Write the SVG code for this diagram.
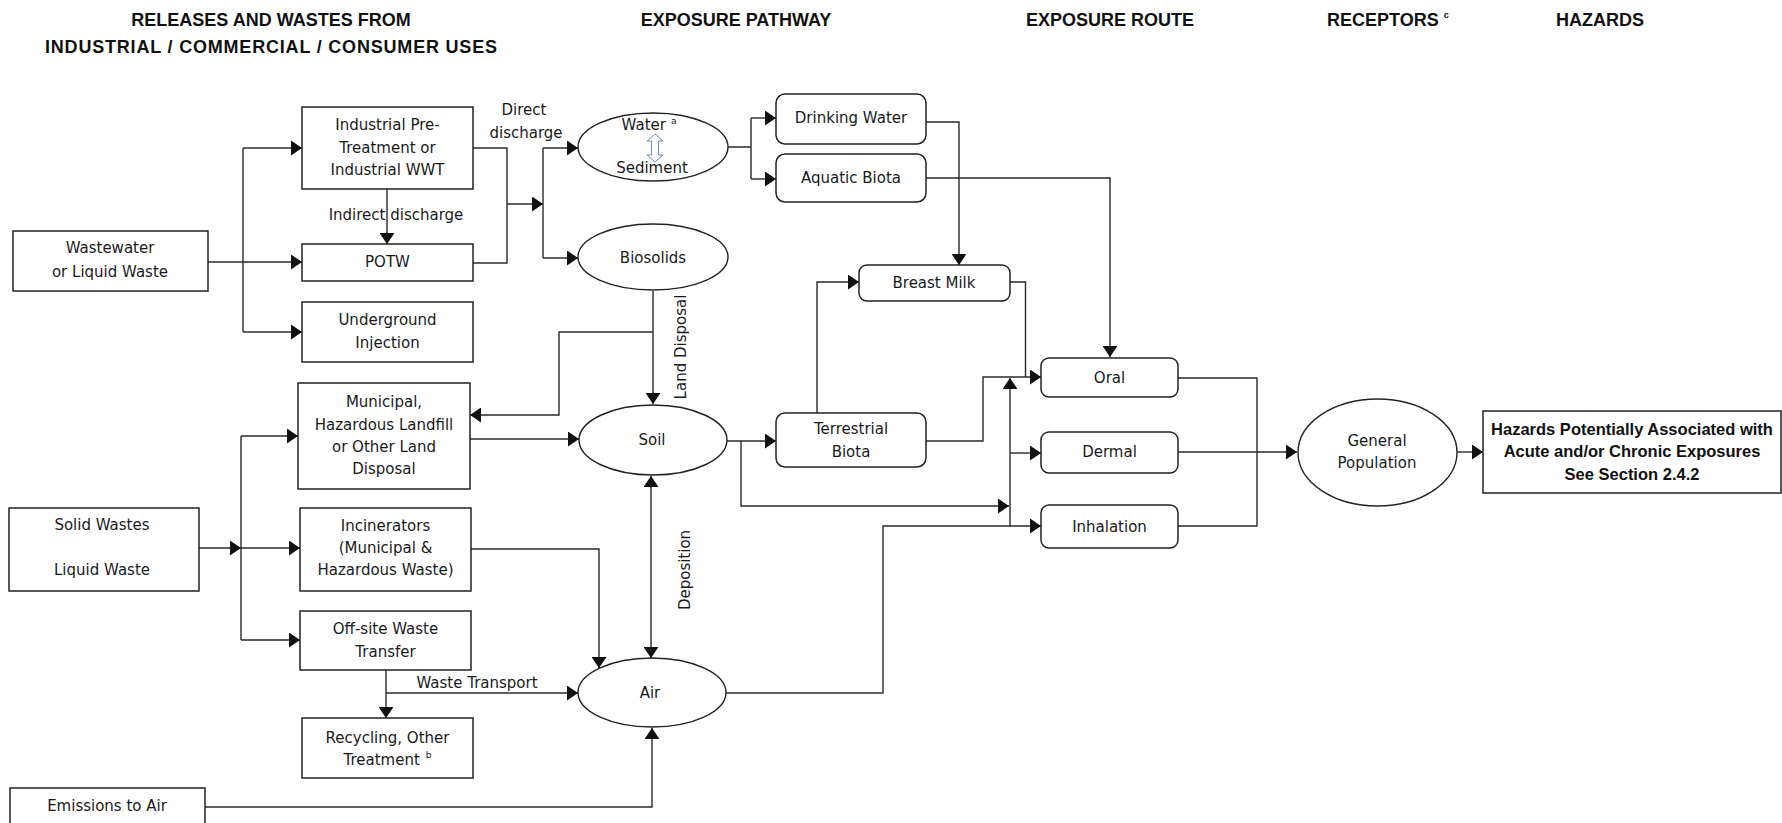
<svg xmlns="http://www.w3.org/2000/svg" width="1782" height="823" viewBox="0 0 1782 823">
  <defs>
    <marker id="ah" markerWidth="11" markerHeight="15" refX="11" refY="7.5" orient="auto-start-reverse" markerUnits="userSpaceOnUse">
      <path d="M0,0 L11,7.5 L0,15 z" fill="#111"/>
    </marker>
    <style>
      .box { fill: #fff; stroke: #222; stroke-width: 1.5; }
      .rbox { fill: #fff; stroke: #222; stroke-width: 1.5; }
      .ell { fill: #fff; stroke: #222; stroke-width: 1.4; }
      .t { font-family: "DejaVu Sans", Verdana, sans-serif; font-size: 15px; fill: #1a1a1a; text-anchor: middle; }
      .lbl { font-family: "DejaVu Sans", Verdana, sans-serif; font-size: 15px; fill: #1a1a1a; text-anchor: middle; }
      .hd { font-family: "Liberation Sans", Arial, sans-serif; font-size: 18px; font-weight: bold; fill: #111; text-anchor: middle; }
      .hz { font-family: "Liberation Sans", Arial, sans-serif; font-size: 16.5px; font-weight: bold; fill: #111; text-anchor: middle; }
      .sup { font-size: 9px; }
      .c { fill: none; stroke: #2a2a2a; stroke-width: 1.4; }
      .a { marker-end: url(#ah); }
    </style>
  </defs>
  <rect width="1782" height="823" fill="#fff"/>

  <!-- column headings -->
  <g id="headings">
    <text class="hd" x="271" y="26">RELEASES AND WASTES FROM</text>
    <text class="hd" x="271" y="53" textLength="452" lengthAdjust="spacing">INDUSTRIAL / COMMERCIAL / CONSUMER USES</text>
    <text class="hd" x="736" y="26">EXPOSURE PATHWAY</text>
    <text class="hd" x="1110" y="26">EXPOSURE ROUTE</text>
    <text class="hd" x="1327" y="26" style="text-anchor:start">RECEPTORS<tspan class="sup" dx="5" dy="-8">c</tspan></text>
    <text class="hd" x="1600" y="26">HAZARDS</text>
  </g>

  <!-- connectors -->
  <g id="connectors">
    <path class="c a" d="M208,262 H302"/>
    <path class="c" d="M243,148 V332"/>
    <path class="c a" d="M243,148 H302"/>
    <path class="c a" d="M243,332 H302"/>
    <path class="c a" d="M387,189 V244"/>
    <path class="c" d="M473,148 H507 V263 H473"/>
    <path class="c a" d="M507,204 H543"/>
    <path class="c" d="M543,148 V258"/>
    <path class="c a" d="M543,148 H578"/>
    <path class="c a" d="M543,258 H578"/>
    <path class="c" d="M728,147 H751 M751,118 V179"/>
    <path class="c a" d="M751,118 H776"/>
    <path class="c a" d="M751,179 H776"/>
    <path class="c a" d="M926,122 H959 V265"/>
    <path class="c a" d="M926,178 H1110 V357"/>
    <path class="c a" d="M653,291 V404"/>
    <path class="c a" d="M653,332 H559 V415 H470"/>
    <path class="c a" d="M470,439 H579"/>
    <path class="c a" d="M726,441 H776"/>
    <path class="c a" d="M741,441 V506 H1009"/>
    <path class="c a" d="M817,413 V282 H859"/>
    <path class="c a" d="M926,441 H983 V377 H1041"/>
    <path class="c" d="M1010,282 H1025.5 V377"/>
    <path class="c a" d="M1010,526 V378"/>
    <path class="c a" d="M1010,453 H1041"/>
    <path class="c a" d="M726,693 H883 V526 H1041"/>
    <path class="c" d="M1178,378 H1257 V526 H1178"/>
    <path class="c a" d="M1178,452 H1297"/>
    <path class="c a" d="M1457,452 H1483"/>
    <path class="c a" d="M199,548 H241"/>
    <path class="c a" d="M241,548 H300"/>
    <path class="c" d="M241,436 V640"/>
    <path class="c a" d="M241,436 H298"/>
    <path class="c a" d="M241,640 H300"/>
    <path class="c a" d="M471,549 H599 V668"/>
    <path class="c a" d="M651,476 V658" style="marker-start:url(#ah)"/>
    <path class="c a" d="M386,670 V718"/>
    <path class="c a" d="M386,693 H578"/>
    <path class="c a" d="M205,807 H652 V728"/>
  </g>

  <!-- connector labels -->
  <g id="connector-labels">
    <text class="lbl" x="524" y="115">Direct</text>
    <text class="lbl" x="526" y="138">discharge</text>
    <text class="lbl" x="396" y="220">Indirect discharge</text>
    <text class="lbl" x="477" y="688">Waste Transport</text>
    <text class="lbl" transform="translate(686,347) rotate(-90)">Land Disposal</text>
    <text class="lbl" transform="translate(690,570) rotate(-90)">Deposition</text>
  </g>

  <!-- release sources -->
  <g id="wastewater">
    <rect class="box" x="13" y="231" width="195" height="60"/>
    <text class="t" x="110" y="253">Wastewater</text>
    <text class="t" x="110" y="277">or Liquid Waste</text>
  </g>
  <g id="solid-wastes">
    <rect class="box" x="9" y="508" width="190" height="83"/>
    <text class="t" x="102" y="530">Solid Wastes</text>
    <text class="t" x="102" y="575">Liquid Waste</text>
  </g>
  <g id="emissions">
    <rect class="box" x="10" y="788" width="195" height="50"/>
    <text class="t" x="107" y="811">Emissions to Air</text>
  </g>

  <!-- treatment / disposal -->
  <g id="industrial-pretreatment">
    <rect class="box" x="302" y="107" width="171" height="82"/>
    <text class="t" x="387.5" y="130">Industrial Pre-</text>
    <text class="t" x="387.5" y="153">Treatment  or</text>
    <text class="t" x="387.5" y="175">Industrial WWT</text>
  </g>
  <g id="potw">
    <rect class="box" x="302" y="244" width="171" height="37"/>
    <text class="t" x="387.5" y="267">POTW</text>
  </g>
  <g id="underground-injection">
    <rect class="box" x="302" y="302" width="171" height="60"/>
    <text class="t" x="387.5" y="325">Underground</text>
    <text class="t" x="387.5" y="348">Injection</text>
  </g>
  <g id="landfill">
    <rect class="box" x="298" y="383" width="172" height="106"/>
    <text class="t" x="384" y="407">Municipal,</text>
    <text class="t" x="384" y="430">Hazardous Landfill</text>
    <text class="t" x="384" y="452">or Other Land</text>
    <text class="t" x="384" y="474">Disposal</text>
  </g>
  <g id="incinerators">
    <rect class="box" x="300" y="508" width="171" height="83"/>
    <text class="t" x="385.5" y="531">Incinerators</text>
    <text class="t" x="385.5" y="553">(Municipal &amp;</text>
    <text class="t" x="385.5" y="575">Hazardous Waste)</text>
  </g>
  <g id="offsite-transfer">
    <rect class="box" x="300" y="611" width="171" height="59"/>
    <text class="t" x="385.5" y="634">Off-site Waste</text>
    <text class="t" x="385.5" y="657">Transfer</text>
  </g>
  <g id="recycling">
    <rect class="box" x="302" y="718" width="171" height="60"/>
    <text class="t" x="387.5" y="743">Recycling, Other</text>
    <text class="t" x="387.5" y="765">Treatment<tspan class="sup" dx="6" dy="-7">b</tspan></text>
  </g>

  <!-- exposure pathways -->
  <g id="water-sediment">
    <ellipse class="ell" cx="653" cy="147" rx="75" ry="34"/>
    <text class="t" x="649" y="130">Water<tspan class="sup" dx="5" dy="-6">a</tspan></text>
    <path d="M655,134 L663,141 H658.5 V155 H663 L655,162 L647,155 H651.5 V141 H647 Z" fill="#fff" stroke="#6d8cc4" stroke-width="1"/>
    <text class="t" x="652" y="173">Sediment</text>
  </g>
  <g id="biosolids">
    <ellipse class="ell" cx="653" cy="257" rx="75" ry="33"/>
    <text class="t" x="653" y="263">Biosolids</text>
  </g>
  <g id="soil">
    <ellipse class="ell" cx="653" cy="440" rx="74" ry="35"/>
    <text class="t" x="652" y="445">Soil</text>
  </g>
  <g id="air">
    <ellipse class="ell" cx="652" cy="692.5" rx="74" ry="34.5"/>
    <text class="t" x="650" y="698">Air</text>
  </g>

  <!-- intermediate media -->
  <g id="drinking-water">
    <rect class="rbox" x="776" y="94" width="150" height="50" rx="9"/>
    <text class="t" x="851" y="123">Drinking Water</text>
  </g>
  <g id="aquatic-biota">
    <rect class="rbox" x="776" y="154" width="150" height="48" rx="9"/>
    <text class="t" x="851" y="183">Aquatic Biota</text>
  </g>
  <g id="breast-milk">
    <rect class="rbox" x="859" y="265" width="151" height="36" rx="8"/>
    <text class="t" x="934" y="288">Breast Milk</text>
  </g>
  <g id="terrestrial-biota">
    <rect class="rbox" x="776" y="413" width="150" height="54" rx="9"/>
    <text class="t" x="851" y="434">Terrestrial</text>
    <text class="t" x="851" y="457">Biota</text>
  </g>

  <!-- exposure routes -->
  <g id="oral">
    <rect class="rbox" x="1041" y="358" width="137" height="39" rx="8"/>
    <text class="t" x="1109.5" y="383">Oral</text>
  </g>
  <g id="dermal">
    <rect class="rbox" x="1041" y="432" width="137" height="41" rx="8"/>
    <text class="t" x="1109.5" y="457">Dermal</text>
  </g>
  <g id="inhalation">
    <rect class="rbox" x="1041" y="505" width="137" height="43" rx="8"/>
    <text class="t" x="1109.5" y="532">Inhalation</text>
  </g>

  <!-- receptors and hazards -->
  <g id="general-population">
    <ellipse class="ell" cx="1377.5" cy="452.5" rx="79.5" ry="53.5"/>
    <text class="t" x="1377" y="446">General</text>
    <text class="t" x="1377" y="468">Population</text>
  </g>
  <g id="hazards">
    <rect class="box" x="1483" y="411" width="298" height="82"/>
    <text class="hz" x="1632" y="435">Hazards Potentially Associated with</text>
    <text class="hz" x="1632" y="457">Acute and/or Chronic Exposures</text>
    <text class="hz" x="1632" y="480">See Section 2.4.2</text>
  </g>
</svg>
